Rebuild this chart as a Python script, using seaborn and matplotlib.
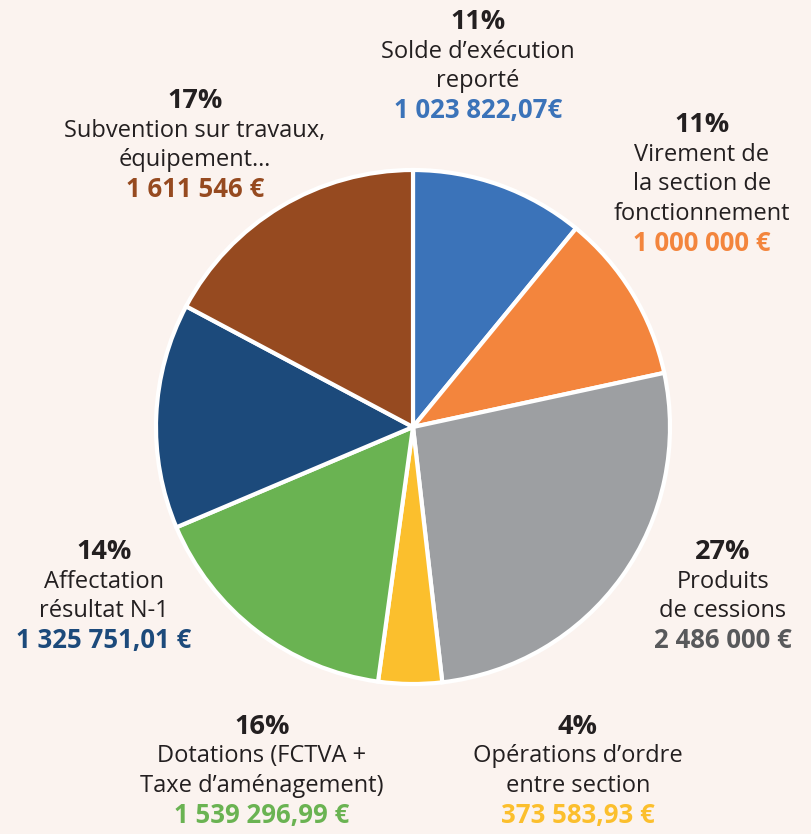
import matplotlib
matplotlib.use("Agg")
import matplotlib.pyplot as plt
import seaborn as sns

# data
names = ["Solde d\u2019exécution\nreporté",
         "Virement de\nla section de\nfonctionnement",
         "Produits\nde cessions",
         "Opérations d\u2019ordre\nentre section",
         "Dotations (FCTVA +\nTaxe d\u2019aménagement)",
         "Affectation\nrésultat N-1",
         "Subvention sur travaux,\néquipement\u2026"]
values = [1023822.07, 1000000, 2486000, 373583.93, 1539296.99, 1325751.01, 1611546]
percents = ["11%", "11%", "27%", "4%", "16%", "14%", "17%"]
amounts = ["1 023 822,07€", "1 000 000 €", "2 486 000 €", "373 583,93 €",
           "1 539 296,99 €", "1 325 751,01 €", "1 611 546 €"]

slice_colors = sns.color_palette(["#3b73b9", "#f3853d", "#9d9fa2", "#fbbf2d",
                                  "#6ab352", "#1c4a7b", "#964a20"])
amount_colors = ["#3b73b9", "#f3853d", "#58595b", "#fbbf2d",
                 "#6ab352", "#1c4a7b", "#964a20"]

# label layout (pixel coords from the top: x centre, y of the percent line)
label_pos = [(478, 22), (702, 125), (723, 552), (578, 727),
             (262, 727), (104, 552), (195, 101)]

W, H = 811, 834
bg = "#fbf3ef"
sns.set_theme(style="white")
plt.rcParams["font.family"] = ["Open Sans", "DejaVu Sans"]

fig = plt.figure(figsize=(W / 100, H / 100), dpi=100, facecolor=bg)
ax = fig.add_axes([0, 0, 1, 1])
ax.set_facecolor(bg)

ax.pie(values, colors=slice_colors, startangle=90, counterclock=False,
       center=(413, H - 427), radius=257, frame=True,
       wedgeprops=dict(edgecolor="white", linewidth=3))
ax.set_xlim(0, W)
ax.set_ylim(0, H)
ax.set_aspect("equal")
ax.axis("off")

step = 29.5
for name, pct, amt, col, (x, y) in zip(names, percents, amounts, amount_colors, label_pos):
    n = name.count("\n") + 1
    ax.text(x, H - y, pct, ha="center", va="center", fontsize=19.5,
            fontweight="bold", color="#231f20")
    for i, line in enumerate(name.split("\n")):
        ax.text(x, H - (y + step * (i + 1)), line, ha="center", va="center",
                fontsize=17, color="#231f20")
    ax.text(x, H - (y + step * (n + 1)), amt, ha="center", va="center",
            fontsize=18.5, fontweight="bold", color=col)

fig.savefig("out.png", dpi=100, facecolor=bg)
